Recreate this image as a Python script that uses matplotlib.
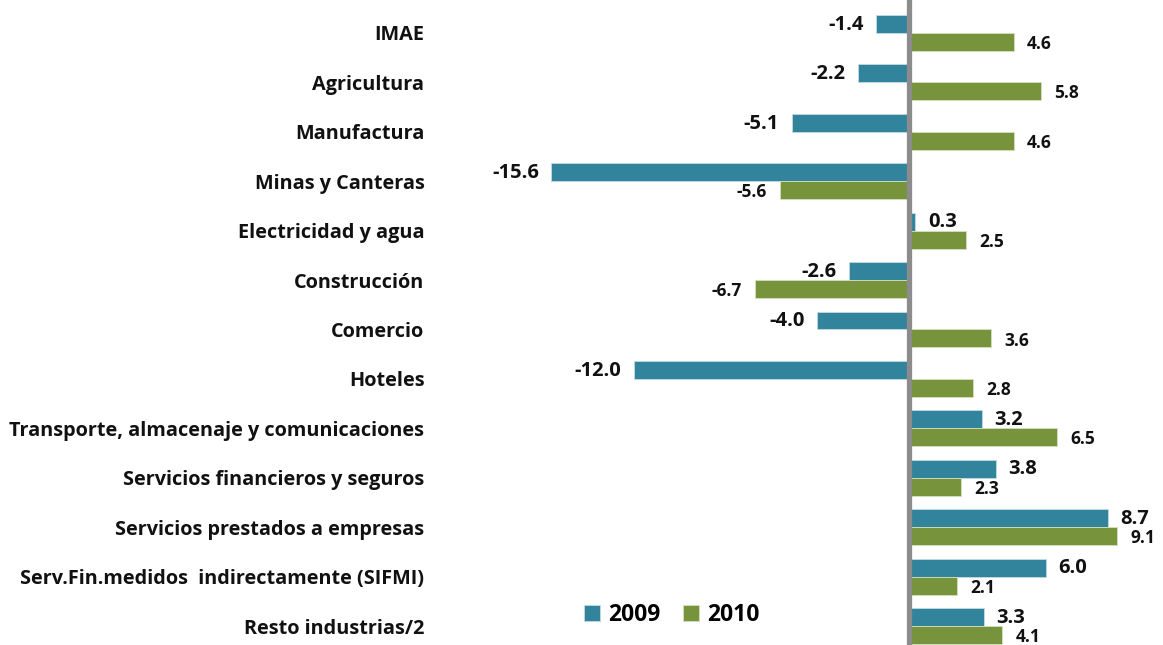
import matplotlib
matplotlib.use("Agg")
import matplotlib.pyplot as plt
import numpy as np

categories = [
    "IMAE",
    "Agricultura",
    "Manufactura",
    "Minas y Canteras",
    "Electricidad y agua",
    "Construcción",
    "Comercio",
    "Hoteles",
    "Transporte, almacenaje y comunicaciones",
    "Servicios financieros y seguros",
    "Servicios prestados a empresas",
    "Serv.Fin.medidos  indirectamente (SIFMI)",
    "Resto industrias/2",
]
values_2009 = [-1.4, -2.2, -5.1, -15.6, 0.3, -2.6, -4.0, -12.0, 3.2, 3.8, 8.7, 6.0, 3.3]
values_2010 = [4.6, 5.8, 4.6, -5.6, 2.5, -6.7, 3.6, 2.8, 6.5, 2.3, 9.1, 2.1, 4.1]
series_labels = ["2009", "2010"]

color_2009 = "#31849B"
color_2010 = "#77933C"

plt.rcParams["font.family"] = ["Open Sans", "DejaVu Sans"]
plt.rcParams["font.weight"] = "bold"

W, H = 1163, 645
fig = plt.figure(figsize=(W / 100, H / 100), dpi=100)

# axes span from px 430 to the right edge; zero lands near px 908
ax_left = 430
ax = fig.add_axes([ax_left / W, 0, 1 - ax_left / W, 1])
px_per_unit = 22.9
zero_px = 908.5
ax.set_xlim((ax_left - zero_px) / px_per_unit, (W - zero_px) / px_per_unit)

row_px = 49.42
first_px = 33
ax.set_ylim(12 + (H - 626) / row_px, -first_px / row_px)

y = np.arange(len(categories))
bar_h = 18 / row_px
b09 = ax.barh(y - bar_h / 2, values_2009, height=bar_h, color=color_2009,
              edgecolor="#BFDCE4", linewidth=0.6, label=series_labels[0])
b10 = ax.barh(y + bar_h / 2, values_2010, height=bar_h, color=color_2010,
              edgecolor="#D4E0BE", linewidth=0.6, label=series_labels[1])

ax.axvline(0, color="#8C8C8C", linewidth=3.8, zorder=3)

# value labels
for yi, v in zip(y - bar_h / 2, values_2009):
    off = 9 if v >= 0 else -9
    ax.annotate(f"{v:.1f}", (v, yi), xytext=(off, -0.5), textcoords="offset points",
                ha="left" if v >= 0 else "right", va="center",
                fontsize=14.5, fontweight="bold", color="#111111")
for yi, v in zip(y + bar_h / 2, values_2010):
    off = 9.5 if v >= 0 else -9.5
    ax.annotate(f"{v:.1f}", (v, yi), xytext=(off, -1.5), textcoords="offset points",
                ha="left" if v >= 0 else "right", va="center",
                fontsize=12.5, fontweight="bold", color="#111111")

ax.set_yticks(y)
ax.set_yticklabels(categories, fontsize=14.3, fontweight="bold", color="#111111")
ax.tick_params(axis="y", length=0, pad=4)
ax.set_xticks([])
for s in ax.spines.values():
    s.set_visible(False)

fig.legend(handles=[b09, b10], loc="center", bbox_to_anchor=(672 / W, 1 - 615 / H),
           ncol=2, frameon=False, handlelength=0.7, handleheight=0.7,
           handletextpad=0.35, columnspacing=1.0,
           prop={"weight": "bold", "size": 16.5})

fig.savefig("out.png", dpi=100)
